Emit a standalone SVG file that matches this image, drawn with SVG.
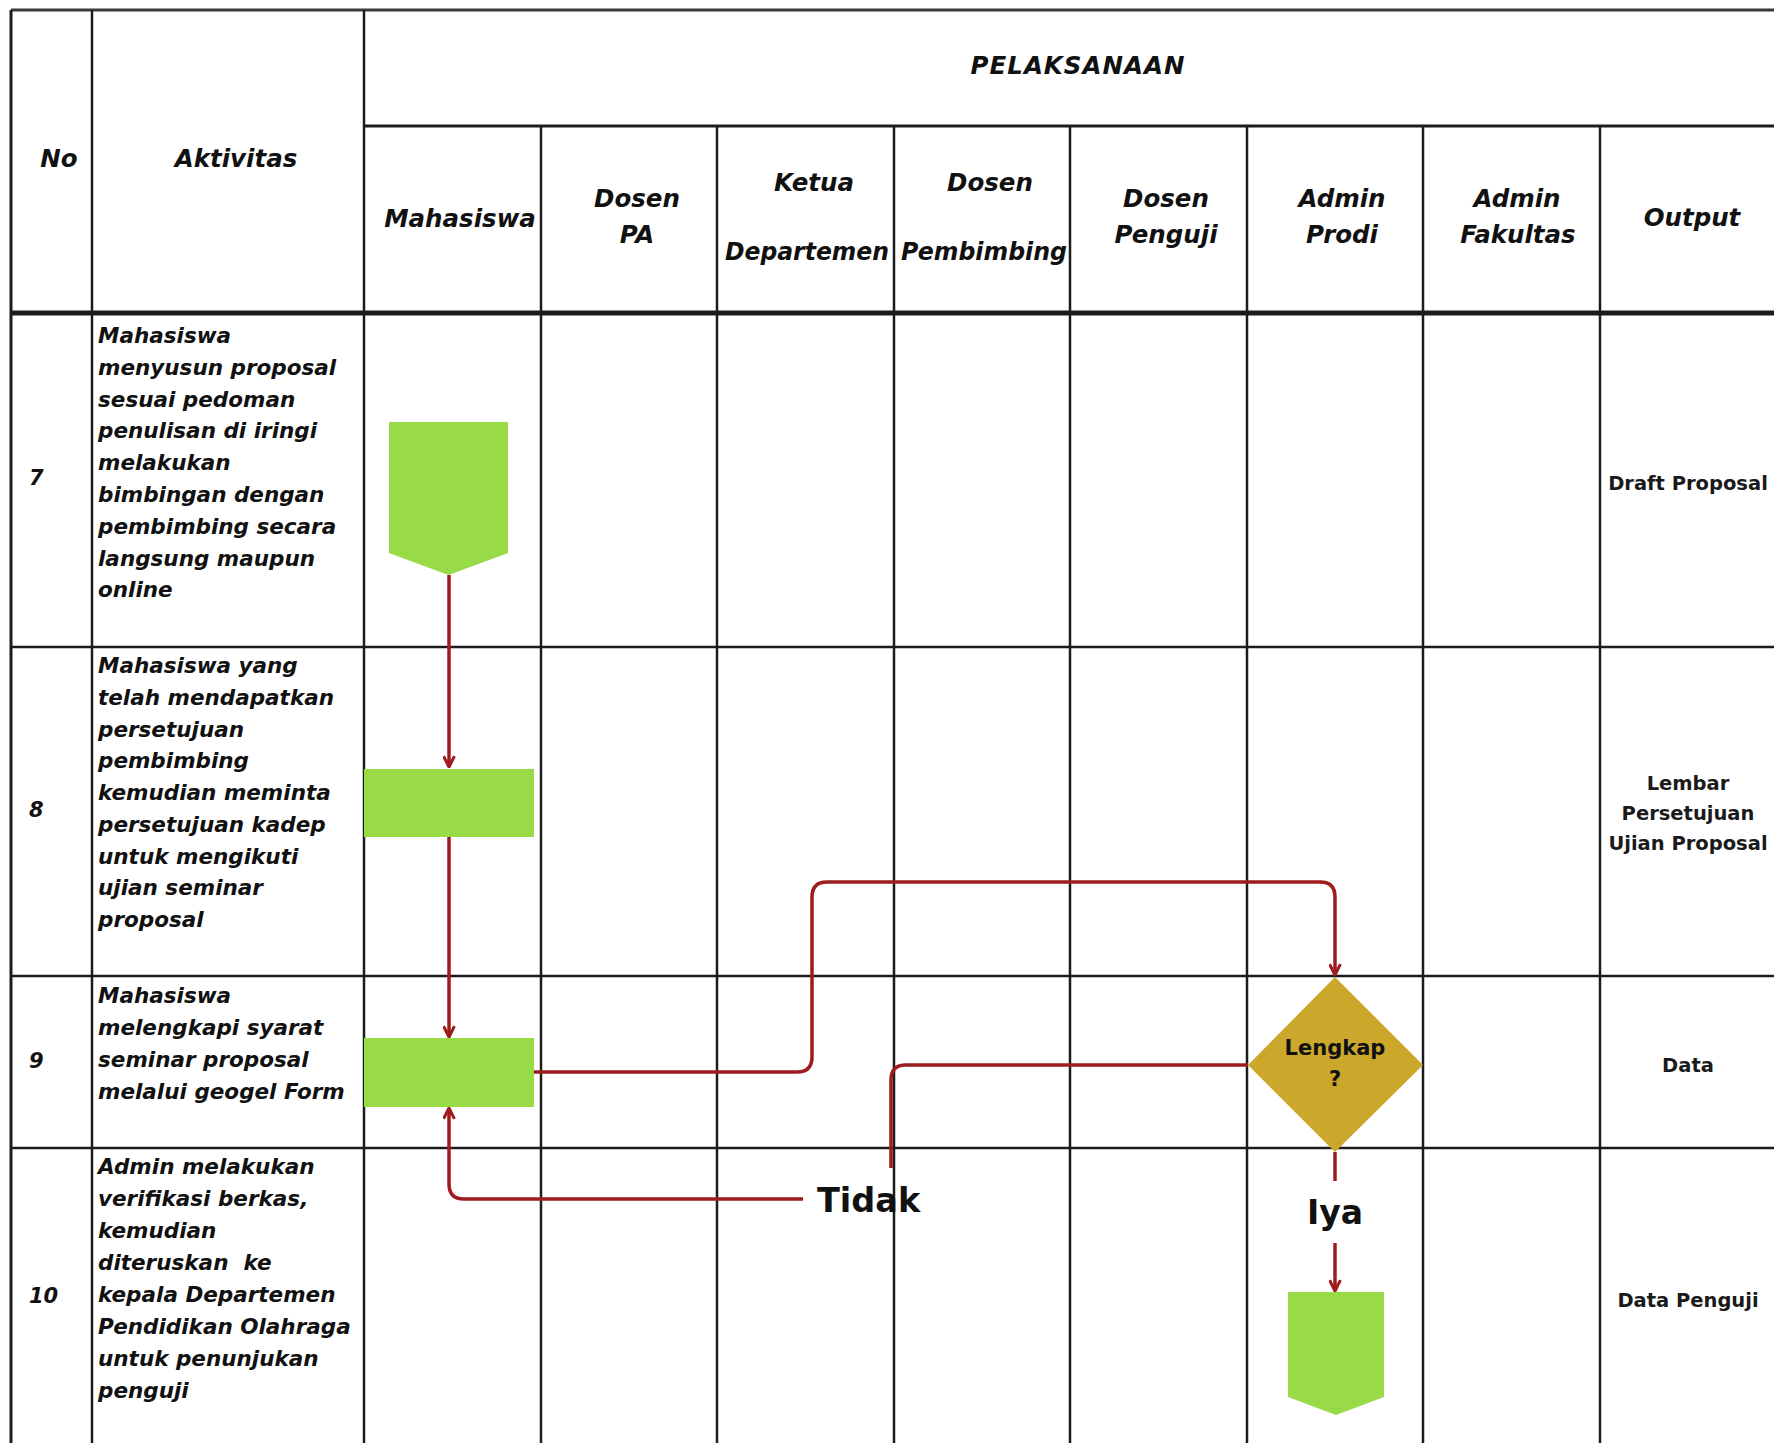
<svg xmlns="http://www.w3.org/2000/svg" width="1774" height="1443" viewBox="0 0 1774 1443">
<style>
.grid{stroke:#1c1c1c;stroke-width:2.5;fill:none}
.hd{font-family:"DejaVu Sans",sans-serif;font-weight:bold;font-style:italic;font-size:24.5px;fill:#111;text-anchor:middle}
.num{font-family:"DejaVu Sans",sans-serif;font-weight:bold;font-style:italic;font-size:21px;fill:#111}
.act{font-family:"DejaVu Sans",sans-serif;font-weight:bold;font-style:italic;font-size:21.5px;fill:#111}
.out{font-family:"DejaVu Sans",sans-serif;font-weight:bold;font-size:19.5px;fill:#1a1a1a;text-anchor:middle}
.lbl{font-family:"DejaVu Sans",sans-serif;font-weight:bold;fill:#111}
.green{fill:#98DB46}
.dec{fill:#CBA82B}
.con{fill:none;stroke:#9E1B1F;stroke-width:3.5}
</style>
<defs>
<marker id="arr" viewBox="0 0 12 12" refX="11" refY="6" markerWidth="13" markerHeight="13" orient="auto" markerUnits="userSpaceOnUse">
<path d="M1,1 L11,6 L1,11" fill="none" stroke="#9E1B1F" stroke-width="2.8"/>
</marker>
</defs>
<rect x="0" y="0" width="1774" height="1443" fill="#fff"/>
<g id="table">
<line x1="11" y1="10" x2="1774" y2="10" class="grid" style="stroke:#3a3a3a;stroke-width:3"/>
<line x1="364" y1="126" x2="1774" y2="126" class="grid" style="stroke-width:3"/>
<line x1="11" y1="313" x2="1774" y2="313" class="grid" style="stroke-width:5"/>
<line x1="11" y1="647" x2="1774" y2="647" class="grid"/>
<line x1="11" y1="976" x2="1774" y2="976" class="grid"/>
<line x1="11" y1="1148" x2="1774" y2="1148" class="grid"/>
<line x1="11" y1="10" x2="11" y2="1443" class="grid" style="stroke-width:3"/>
<line x1="92" y1="10" x2="92" y2="1443" class="grid"/>
<line x1="364" y1="10" x2="364" y2="1443" class="grid"/>
<line x1="541" y1="126" x2="541" y2="1443" class="grid"/>
<line x1="717" y1="126" x2="717" y2="1443" class="grid"/>
<line x1="894" y1="126" x2="894" y2="1443" class="grid"/>
<line x1="1070" y1="126" x2="1070" y2="1443" class="grid"/>
<line x1="1247" y1="126" x2="1247" y2="1443" class="grid"/>
<line x1="1423" y1="126" x2="1423" y2="1443" class="grid"/>
<line x1="1600" y1="126" x2="1600" y2="1443" class="grid"/>
</g>
<g id="headers">
<text class="hd" x="59" y="167">No</text>
<text class="hd" x="236" y="167">Aktivitas</text>
<text class="hd" x="1078" y="74" letter-spacing="1">PELAKSANAAN</text>
<text class="hd" x="460" y="227">Mahasiswa</text>
<text class="hd" x="637" y="207">Dosen</text>
<text class="hd" x="637" y="243">PA</text>
<text class="hd" x="814" y="191">Ketua</text>
<text class="hd" x="807" y="260" textLength="164" lengthAdjust="spacingAndGlyphs">Departemen</text>
<text class="hd" x="990" y="191">Dosen</text>
<text class="hd" x="984" y="260" textLength="166" lengthAdjust="spacingAndGlyphs">Pembimbing</text>
<text class="hd" x="1166" y="207">Dosen</text>
<text class="hd" x="1166" y="243">Penguji</text>
<text class="hd" x="1342" y="207">Admin</text>
<text class="hd" x="1342" y="243">Prodi</text>
<text class="hd" x="1517" y="207">Admin</text>
<text class="hd" x="1518" y="243">Fakultas</text>
<text class="hd" x="1692" y="226">Output</text>
</g>
<g id="row-numbers">
<text class="num" x="29" y="485">7</text>
<text class="num" x="29" y="817">8</text>
<text class="num" x="29" y="1068">9</text>
<text class="num" x="29" y="1303">10</text>
</g>
<g id="activities">
<text class="act" x="98" y="343">Mahasiswa</text>
<text class="act" x="98" y="375">menyusun proposal</text>
<text class="act" x="98" y="407">sesuai pedoman</text>
<text class="act" x="98" y="438">penulisan di iringi</text>
<text class="act" x="98" y="470">melakukan</text>
<text class="act" x="98" y="502">bimbingan dengan</text>
<text class="act" x="98" y="534">pembimbing secara</text>
<text class="act" x="98" y="566">langsung maupun</text>
<text class="act" x="98" y="597">online</text>
<text class="act" x="98" y="673">Mahasiswa yang</text>
<text class="act" x="98" y="705">telah mendapatkan</text>
<text class="act" x="98" y="737">persetujuan</text>
<text class="act" x="98" y="768">pembimbing</text>
<text class="act" x="98" y="800">kemudian meminta</text>
<text class="act" x="98" y="832">persetujuan kadep</text>
<text class="act" x="98" y="864">untuk mengikuti</text>
<text class="act" x="98" y="895">ujian seminar</text>
<text class="act" x="98" y="927">proposal</text>
<text class="act" x="98" y="1003">Mahasiswa</text>
<text class="act" x="98" y="1035">melengkapi syarat</text>
<text class="act" x="98" y="1067">seminar proposal</text>
<text class="act" x="98" y="1099">melalui geogel Form</text>
<text class="act" x="98" y="1174">Admin melakukan</text>
<text class="act" x="98" y="1206">verifikasi berkas,</text>
<text class="act" x="98" y="1238">kemudian</text>
<text class="act" x="98" y="1270" xml:space="preserve">diteruskan  ke</text>
<text class="act" x="98" y="1302">kepala Departemen</text>
<text class="act" x="98" y="1334">Pendidikan Olahraga</text>
<text class="act" x="98" y="1366">untuk penunjukan</text>
<text class="act" x="98" y="1398">penguji</text>
</g>
<g id="outputs">
<text class="out" x="1688" y="490">Draft Proposal</text>
<text class="out" x="1688" y="790">Lembar</text>
<text class="out" x="1688" y="820">Persetujuan</text>
<text class="out" x="1688" y="850">Ujian Proposal</text>
<text class="out" x="1688" y="1072">Data</text>
<text class="out" x="1688" y="1307">Data Penguji</text>
</g>
<g id="connectors">
<path class="con" d="M449,575 V767" marker-end="url(#arr)"/>
<path class="con" d="M449,837 V1037" marker-end="url(#arr)"/>
<path class="con" d="M534,1072 H797 Q812,1072 812,1057 V897 Q812,882 827,882 H1320 Q1335,882 1335,897 V975" marker-end="url(#arr)"/>
<path class="con" d="M1248,1065 H906 Q891,1065 891,1080 V1168"/>
<path class="con" d="M803,1199 H464 Q449,1199 449,1184 V1108" marker-end="url(#arr)"/>
<path class="con" d="M1335,1152 V1181"/>
<path class="con" d="M1335,1243 V1291" marker-end="url(#arr)"/>
<text class="lbl" x="817" y="1212" font-size="33.5">Tidak</text>
<text class="lbl" x="1335" y="1224" font-size="33" text-anchor="middle">Iya</text>
</g>
<g id="node-draft">
<polygon class="green" points="389,422 508,422 508,553 448.5,575 389,553"/>
</g>
<g id="node-persetujuan">
<rect class="green" x="364" y="769" width="170" height="68"/>
</g>
<g id="node-syarat">
<rect class="green" x="364" y="1038" width="170" height="69"/>
</g>
<g id="node-lengkap">
<polygon class="dec" points="1335,977 1423,1065 1335,1152 1248,1065"/>
<text class="lbl" x="1335" y="1055" font-size="21" text-anchor="middle">Lengkap</text>
<text class="lbl" x="1335" y="1086" font-size="21" text-anchor="middle">?</text>
</g>
<g id="node-penguji">
<polygon class="green" points="1288,1292 1384,1292 1384,1397 1336,1415 1288,1397"/>
</g>
</svg>
